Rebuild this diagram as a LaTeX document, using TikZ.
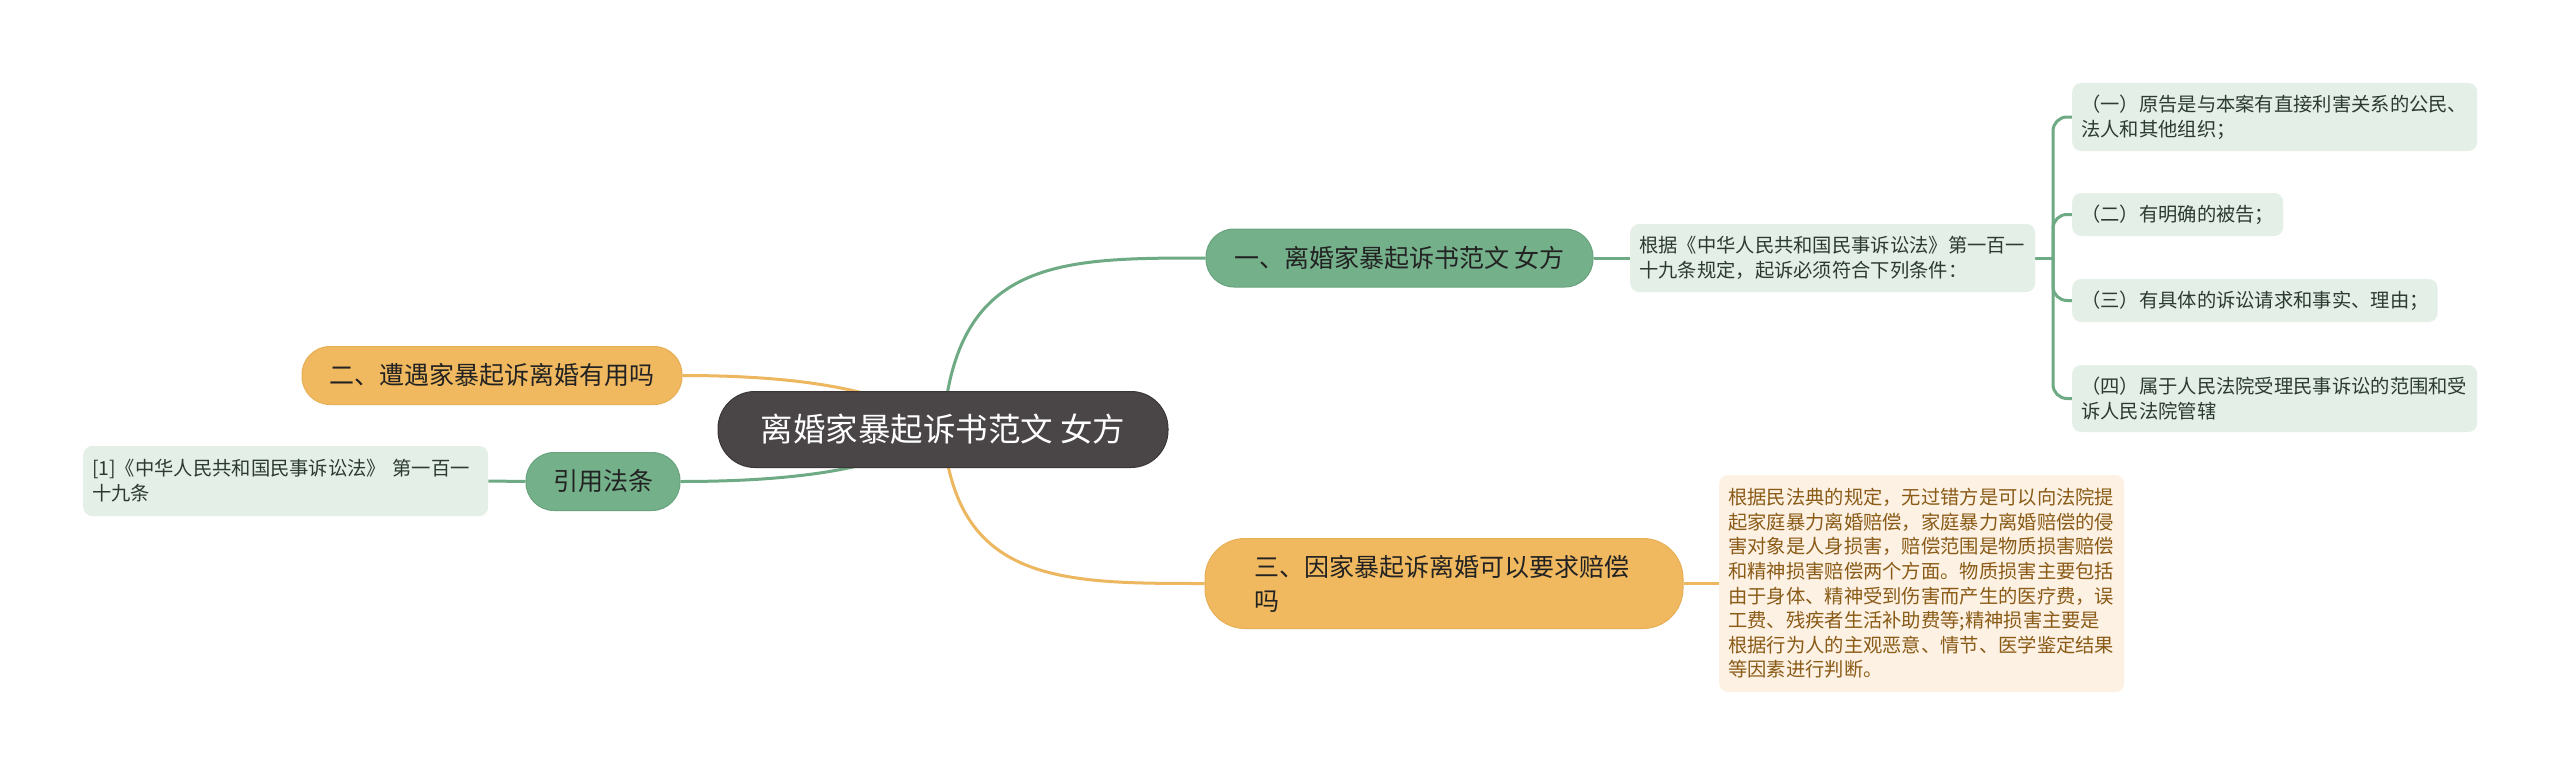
\documentclass[tikz,border=0pt]{standalone}
\usepackage{fontspec}
\newfontfamily\cjk{Noto Sans CJK SC}
\usetikzlibrary{backgrounds}
\definecolor{rootfill}{HTML}{4A4546}
\definecolor{rootdraw}{HTML}{3A3536}
\definecolor{gfill}{HTML}{74B08A}
\definecolor{gdraw}{HTML}{68A37E}
\definecolor{ofill}{HTML}{F0B960}
\definecolor{odraw}{HTML}{E6AE55}
\definecolor{gline}{HTML}{6EAA84}
\definecolor{oline}{HTML}{EDB760}
\definecolor{gbox}{HTML}{E3EFE7}
\definecolor{obox}{HTML}{FDF1E3}
\definecolor{gtext}{HTML}{2C3A31}
\definecolor{otext}{HTML}{8A5B17}
\definecolor{btext}{HTML}{222222}
\tikzset{
  rootnode/.style={fill=rootfill, draw=rootdraw, line width=1pt, rounded corners=37pt,
    minimum width=450pt, minimum height=76pt, text=white,
    font=\fontsize{32.5}{38}\selectfont\cjk, inner sep=0pt},
  gbranch/.style={fill=gfill, draw=gdraw, line width=1pt, rounded corners=28pt,
    minimum height=58pt, text=btext, font=\fontsize{25}{30}\selectfont\cjk, inner sep=0pt},
  obranch/.style={fill=ofill, draw=odraw, line width=1pt, rounded corners=28pt,
    minimum height=58pt, text=btext, font=\fontsize{25}{30}\selectfont\cjk, inner sep=0pt},
  gdetail/.style={fill=gbox, rounded corners=9pt, text=gtext,
    font=\fontsize{19.3}{25}\selectfont\cjk, align=left, inner xsep=9pt, inner ysep=0pt, anchor=west},
  odetail/.style={fill=obox, rounded corners=9pt, text=otext,
    font=\fontsize{19.3}{24.6}\selectfont\cjk, align=left, inner xsep=9pt, inner ysep=0pt, anchor=west},
  gconn/.style={draw=gline, line width=3pt},
  oconn/.style={draw=oline, line width=3pt},
}
\begin{document}
\begin{tikzpicture}[x=1pt, y=-1pt]
\useasboundingbox (0,0) rectangle (2560,776);

% root
\node[rootnode] (root) at (943,429.5) {离婚家暴起诉书范文 女方};

% branches
\node[gbranch, minimum width=387pt] (b1) at (1399.5,258) {一、离婚家暴起诉书范文 女方};
\node[obranch, minimum width=380pt] (b2) at (492,375.5) {二、遭遇家暴起诉离婚有用吗};
\node[gbranch, minimum width=154pt] (bq) at (603,481.5) {引用法条};
\node[obranch, rounded corners=40pt, minimum height=90pt, text width=380pt, align=left,
      inner xsep=49pt, font=\fontsize{25}{34}\selectfont\cjk] (b3) at (1444,583.5)
      {三、因家暴起诉离婚可以要求赔偿\\吗};

% details
\node[gdetail, text width=387pt, minimum height=68pt] (d1) at (1630,258)
  {根据《中华人民共和国民事诉讼法》第一百一\\十九条规定，起诉必须符合下列条件：};
\node[gdetail, text width=387pt, minimum height=68pt] (c1) at (2072,117)
  {（一）原告是与本案有直接利害关系的公民、\\法人和其他组织；};
\node[gdetail, minimum height=43pt] (c2) at (2072,214.5) {（二）有明确的被告；};
\node[gdetail, minimum height=43pt] (c3) at (2072,300.5) {（三）有具体的诉讼请求和事实、理由；};
\node[gdetail, text width=387pt, minimum height=67pt] (c4) at (2072,398.5)
  {（四）属于人民法院受理民事诉讼的范围和受\\诉人民法院管辖};
\node[gdetail, text width=387pt, minimum height=70pt] (dq) at (83,481)
  {[1]《中华人民共和国民事诉讼法》 第一百一\\十九条};
\node[odetail, text width=387pt, minimum height=217pt] (d3) at (1719,583.5)
  {根据民法典的规定，无过错方是可以向法院提\\起家庭暴力离婚赔偿，家庭暴力离婚赔偿的侵\\害对象是人身损害，赔偿范围是物质损害赔偿\\和精神损害赔偿两个方面。物质损害主要包括\\由于身体、精神受到伤害而产生的医疗费，误\\工费、残疾者生活补助费等;精神损害主要是\\根据行为人的主观恶意、情节、医学鉴定结果\\等因素进行判断。};

\coordinate (j) at (2053,258);

\begin{scope}[on background layer]
\fill[white] (0,0) rectangle (2560,776);
\draw[gconn] (root.center) .. controls (955,258) and (1060,258) .. (b1.west);
\draw[oconn] (root.center) .. controls (955,583.5) and (1060,583.5) .. (b3.west);
\draw[oconn] (root.center) .. controls (900,395) and (820,375.5) .. (b2.east);
\draw[gconn] (root.center) .. controls (900,463) and (820,481.5) .. (bq.east);
\draw[gconn] (b1.east) -- (d1.west);
\draw[oconn] (b3.east) -- (d3.west);
\draw[gconn] (bq.west) -- (dq.east);
\draw[gconn] (d1.east) -- (j);
\foreach \c in {c1,c2,c3,c4} \draw[gconn, rounded corners=14pt] (j) |- (\c.west);
\end{scope}
\end{tikzpicture}
\end{document}
